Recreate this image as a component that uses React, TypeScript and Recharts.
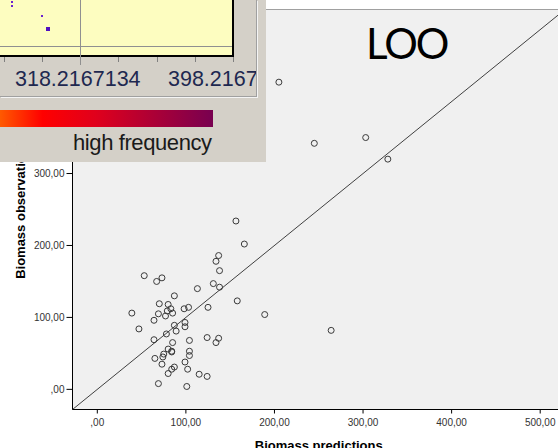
import { ScatterChart, Scatter, XAxis, YAxis, CartesianGrid, ReferenceLine } from 'recharts';

const predictions = [
  205, 245, 303, 328, 156.5, 166, 137, 134, 138, 53, 73, 67, 131, 138, 113, 87, 70, 80, 83, 98,
  103, 125, 79, 39, 69, 85, 77, 64, 99, 99, 87, 89, 47, 78, 64, 85, 104, 124, 137, 134,
  80, 84, 84, 104, 75, 104, 65, 74, 99, 73, 87, 84, 102, 80, 115, 124, 69, 101, 158, 189, 264,
];
const observations = [
  427, 342, 350, 320, 234, 202, 186, 178, 165, 158, 155, 150, 147, 142, 140, 130, 119, 118, 112, 112,
  114, 114, 109, 106, 105, 106, 102, 96, 93, 87, 89, 81, 84, 77, 69, 65, 68, 72, 71, 65,
  56, 53, 52, 53, 49, 47, 43, 45, 38, 35, 31, 28, 28, 22, 21, 18, 8, 4, 123, 104, 82,
];
const xTicks = [0, 100, 200, 300, 400, 500];
const yTicks = [0, 100, 200, 300, 400, 500];
const axisDomain = [-28, 528];
const overlayLabels = ['318.2167134', '398.2167134'];

const points = predictions.map((x, i) => ({ x, y: observations[i] }));

const fmt = (v: number) => (v === 0 ? ',00' : `${v},00`);

const tickStyle = { fill: '#333', fontSize: 10, fontFamily: 'Liberation Sans, Arial, sans-serif' };
const labelFont = 'Liberation Sans, Arial, sans-serif';

const Ring = (props: any) => (
  <circle cx={props.cx} cy={props.cy} r={3} fill="none" stroke="#3a3a3a" strokeWidth={1} />
);

const XLabel = ({ viewBox }: any) => (
  <text x={viewBox.x + viewBox.width / 2} y={449.5} textAnchor="middle"
    fontFamily={labelFont} fontSize={13} fontWeight="bold" fill="#000">
    Biomass predictions
  </text>
);

const YLabel = ({ viewBox }: any) => {
  const cy = viewBox.y + viewBox.height / 2;
  return (
    <text x={25} y={cy} transform={`rotate(-90, 25, ${cy})`} textAnchor="middle"
      fontFamily={labelFont} fontSize={13} fontWeight="bold" fill="#000">
      Biomass observations
    </text>
  );
};

// pasted screenshot fragment sitting over the top-left corner
const Overlay = () => (
  <div style={{ position: 'absolute', left: 0, top: 0, width: 266, height: 162, background: '#d4d0c8' }}>
    <div style={{
      position: 'absolute', left: 0, top: 0, width: 256, height: 96, overflow: 'hidden',
      borderRight: '1px solid #a0a0a0', borderBottom: '1px solid #a0a0a0', boxShadow: '1px 1px 0 #f4f4f4',
    }}>
      <div style={{
        position: 'absolute', left: 0, top: 0, width: 232, height: 55, background: '#fdfdc0',
        borderRight: '2px solid #000', borderBottom: '2px solid #000',
      }} />
      <div style={{ position: 'absolute', left: 0, top: 46, width: 232, height: 1, background: '#909090' }} />
      <div style={{ position: 'absolute', left: 80, top: 0, width: 1, height: 65, background: '#909090' }} />
      {[4, 42, 118, 157, 195].map((x) => (
        <div key={x} style={{ position: 'absolute', left: x, top: 57, width: 1, height: 5, background: '#808080' }} />
      ))}
      <div style={{ position: 'absolute', left: 233, top: 57, width: 1, height: 5, background: '#808080' }} />
      <div style={{ position: 'absolute', left: 11, top: 1, width: 2, height: 2, background: '#6a20d0' }} />
      <div style={{ position: 'absolute', left: 11, top: 5, width: 2, height: 2, background: '#6a20d0' }} />
      <div style={{ position: 'absolute', left: 41, top: 15, width: 2, height: 2, background: '#6a20d0' }} />
      <div style={{ position: 'absolute', left: 46, top: 27, width: 4, height: 4, background: '#5010c0' }} />
      {overlayLabels.map((t, i) => (
        <div key={t} style={{
          position: 'absolute', left: i === 0 ? 15 : 168, top: 69, fontSize: 21.5, lineHeight: 1,
          fontFamily: labelFont, color: '#1e2850', whiteSpace: 'nowrap',
        }}>{t}</div>
      ))}
    </div>
    <div style={{
      position: 'absolute', left: 0, top: 110, width: 213, height: 17,
      background: 'linear-gradient(to right, #ff5a00 0%, #ff0000 20%, #e0001c 45%, #b00034 70%, #780050 100%)',
    }} />
    <div style={{
      position: 'absolute', left: 73, top: 132, fontSize: 22, lineHeight: 1, letterSpacing: -0.4,
      fontFamily: labelFont, color: '#1a1a1a', whiteSpace: 'nowrap',
    }}>high frequency</div>
  </div>
);

export default function App() {
  return (
    <div style={{ position: 'fixed', left: 0, top: 0, width: 558, height: 448, overflow: 'hidden', background: '#fff' }}>
      <ScatterChart width={600} height={448} margin={{ top: 9.5, right: 35, bottom: 0, left: 0 }}>
        <CartesianGrid fill="#f0f0f0" horizontal={false} vertical={false} />
        <XAxis type="number" dataKey="x" domain={axisDomain} ticks={xTicks} tickFormatter={fmt}
          height={38.5} tick={tickStyle} tickSize={4} tickMargin={5}
          axisLine={{ stroke: '#000' }} tickLine={{ stroke: '#000' }} allowDataOverflow
          label={XLabel} />
        <YAxis type="number" dataKey="y" domain={axisDomain} ticks={yTicks} tickFormatter={fmt}
          width={72.5} tick={tickStyle} tickSize={6} tickMargin={2}
          axisLine={{ stroke: '#000' }} tickLine={{ stroke: '#000' }} allowDataOverflow
          label={YLabel} />
        <ReferenceLine y={528} stroke="#a0a0a0" />
        <ReferenceLine segment={[{ x: -28, y: -28 }, { x: 528, y: 528 }]} stroke="#404040" />
        <Scatter data={points} shape={Ring} isAnimationActive={false} />
      </ScatterChart>
      <div style={{
        position: 'absolute', left: 366, top: 22, fontSize: 42, lineHeight: 1, letterSpacing: -2,
        fontFamily: 'Lato, sans-serif', color: '#000',
      }}>LOO</div>
      <Overlay />
    </div>
  );
}
